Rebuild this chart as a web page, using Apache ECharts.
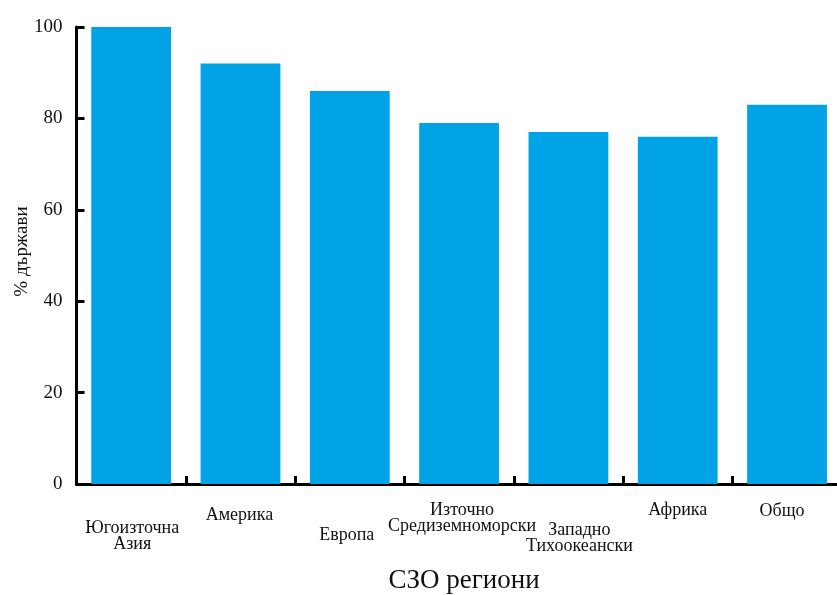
<!DOCTYPE html>
<html><head><meta charset="utf-8">
<script src="https://cdn.jsdelivr.net/npm/echarts@6/dist/echarts.min.js"></script>
<style>html,body{margin:0;padding:0;background:#fff}#c{width:837px;height:595px}</style>
</head><body><div id="c"></div>
<script>
const categories = ['Югоизточна\nАзия','Америка','Европа','Източно\nСредиземноморски','Западно\nТихоокеански','Африка','Общо'];
const values = [100, 92, 86, 79, 77, 76, 83];
const yTicks = [0, 20, 40, 60, 80, 100];
// label placement (top padding, horizontal shift) to mimic the staggered labels
const labelTop = [36, 23, 43, 18, 38, 18, 19];
const labelShift = [1, -1, -3, 3, 11, 0, -5];

const chart = echarts.init(document.getElementById('c'));
chart.setOption({
  animation: false,
  grid: {left: 76.5, right: -4.7, top: 27, bottom: 111, containLabel: false, outerBoundsMode: 'none'},
  xAxis: {
    type: 'category',
    data: categories.map((c, i) => ({
      value: c,
      textStyle: {padding: [labelTop[i], labelShift[i] < 0 ? -2 * labelShift[i] : 0, 0, labelShift[i] > 0 ? 2 * labelShift[i] : 0]}
    })),
    name: 'СЗО региони',
    nameLocation: 'middle',
    nameGap: 83,
    nameMoveOverlap: false,
    nameTextStyle: {fontFamily: 'Liberation Serif', fontSize: 27, color: '#111', padding: [0, 0, 0, 10]},
    axisLine: {lineStyle: {color: '#000', width: 3}},
    axisTick: {show: true, interval: 0, alignWithLabel: false, inside: true, length: 8, lineStyle: {color: '#000', width: 3}},
    axisLabel: {fontFamily: 'Liberation Serif', fontSize: 18, color: '#111', lineHeight: 16, margin: 0, interval: 0}
  },
  yAxis: {
    type: 'value', min: 0, max: 100, interval: 20,
    name: '% държави', nameLocation: 'middle', nameGap: 45,
    nameMoveOverlap: false,
    nameTextStyle: {fontFamily: 'Liberation Serif', fontSize: 19, color: '#111', padding: [0, 0, 0, 8]},
    axisLine: {show: true, lineStyle: {color: '#000', width: 3}},
    axisTick: {show: true, inside: true, length: 8, lineStyle: {color: '#000', width: 3}},
    axisLabel: {fontFamily: 'Liberation Serif', fontSize: 19, color: '#111', margin: 14,
      formatter: v => yTicks.includes(v) ? String(v) : ''},
    splitLine: {show: false}
  },
  series: [{
    type: 'bar', data: values, barCategoryGap: '27%',
    itemStyle: {color: '#00a3e6'}
  }]
});
</script></body></html>
